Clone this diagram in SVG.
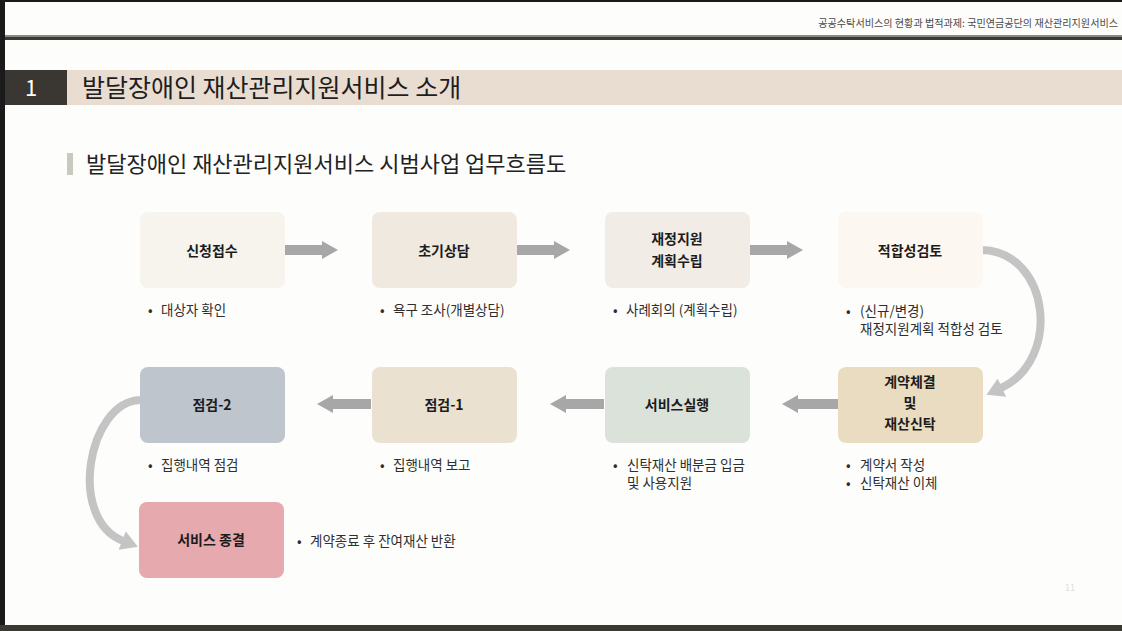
<svg xmlns="http://www.w3.org/2000/svg" width="1122" height="631" viewBox="0 0 1122 631">
<defs>
<style>
.t{font-family:"Noto Sans CJK KR","Noto Sans",sans-serif;}
.lbl{font-size:14px;font-weight:bold;fill:#1c1c1c;text-anchor:middle;}
.bul{font-size:13.5px;fill:#2e2e2e;}
.box{stroke:none;}
.ar{fill:none;stroke:#a7a7a7;stroke-width:10;}
.cv{fill:none;stroke:#c4c4c4;stroke-width:8;}
</style>
<marker id="hd" markerUnits="userSpaceOnUse" markerWidth="16" markerHeight="18" refX="1" refY="9" orient="auto">
<path d="M0,0 L16,9 L0,18 z" fill="#a7a7a7"/>
</marker>
<marker id="hc" markerUnits="userSpaceOnUse" markerWidth="17" markerHeight="20" refX="1" refY="10" orient="auto">
<path d="M0,0 L17,10 L0,20 z" fill="#c4c4c4"/>
</marker>
</defs>
<rect x="0" y="0" width="1122" height="631" fill="#fdfdfc"/>
<rect x="0" y="0" width="5" height="631" fill="#1a1a1a"/>
<rect x="0" y="0" width="1122" height="2" fill="#1a1a1a"/>
<text class="t" x="1118" y="27" font-size="10.1" fill="#4a4a4a" text-anchor="end">공공수탁서비스의 현황과 법적과제: 국민연금공단의 재산관리지원서비스</text>
<rect x="5" y="35" width="1117" height="2" fill="#8a8a84"/>
<rect x="5" y="37" width="1117" height="3" fill="#3a3a34"/>
<rect x="5" y="70" width="62" height="35" fill="#3a3631"/>
<rect x="67" y="70" width="1055" height="35" fill="#e9ddd2"/>
<text class="t" x="31" y="96" font-size="22" fill="#ffffff" text-anchor="middle">1</text>
<text class="t" x="82" y="97" font-size="25" fill="#1e1e1e">발달장애인 재산관리지원서비스 소개</text>
<rect x="67" y="153" width="6" height="22" fill="#c9c9c0"/>
<text class="t" x="86" y="172" font-size="22" fill="#222">발달장애인 재산관리지원서비스 시범사업 업무흐름도</text>

<g id="connectors">
<path class="ar" d="M284,250 H323" marker-end="url(#hd)"/>
<path class="ar" d="M516,250 H555" marker-end="url(#hd)"/>
<path class="ar" d="M749,250 H788" marker-end="url(#hd)"/>
<path class="ar" d="M371,404 H332" marker-end="url(#hd)"/>
<path class="ar" d="M604,404 H565" marker-end="url(#hd)"/>
<path class="ar" d="M838,404 H797" marker-end="url(#hd)"/>
<path class="cv" d="M982,250 C1050,252 1062,360 1001,388" marker-end="url(#hc)"/>
<path class="cv" d="M140,400 C88,402 67,519 123,541" marker-end="url(#hc)"/>
</g>

<g id="n1"><rect class="box" x="140" y="212" width="145" height="76" rx="8" fill="#f6f4ec"/>
<text class="t lbl" x="212" y="256">신청접수</text>
<text class="t bul" x="148" y="315">•</text><text class="t bul" x="161" y="315">대상자 확인</text></g>

<g id="n2"><rect class="box" x="372" y="212" width="145" height="76" rx="8" fill="#efe9df"/>
<text class="t lbl" x="444" y="256">초기상담</text>
<text class="t bul" x="380" y="315">•</text><text class="t bul" x="393" y="315">욕구 조사(개별상담)</text></g>

<g id="n3"><rect class="box" x="605" y="212" width="145" height="76" rx="8" fill="#f2ece7"/>
<text class="t lbl" x="677" y="244">재정지원</text>
<text class="t lbl" x="677" y="266">계획수립</text>
<text class="t bul" x="613" y="315">•</text><text class="t bul" x="626" y="315">사례회의 (계획수립)</text></g>

<g id="n4"><rect class="box" x="838" y="212" width="145" height="76" rx="8" fill="#fdf7f1"/>
<text class="t lbl" x="910" y="256">적합성검토</text>
<text class="t bul" x="846" y="316">•</text><text class="t bul" x="860" y="316">(신규/변경)</text>
<text class="t bul" x="860" y="334">재정지원계획 적합성 검토</text></g>

<g id="n5"><rect class="box" x="838" y="367" width="145" height="76" rx="8" fill="#eadcc1"/>
<text class="t lbl" x="910" y="387">계약체결</text>
<text class="t lbl" x="910" y="408">및</text>
<text class="t lbl" x="910" y="429">재산신탁</text>
<text class="t bul" x="846" y="470">•</text><text class="t bul" x="860" y="470">계약서 작성</text>
<text class="t bul" x="846" y="488">•</text><text class="t bul" x="860" y="488">신탁재산 이체</text></g>

<g id="n6"><rect class="box" x="605" y="367" width="145" height="76" rx="8" fill="#dbe2da"/>
<text class="t lbl" x="677" y="410">서비스실행</text>
<text class="t bul" x="613" y="470">•</text><text class="t bul" x="627" y="470">신탁재산 배분금 입금</text>
<text class="t bul" x="627" y="488">및 사용지원</text></g>

<g id="n7"><rect class="box" x="372" y="367" width="145" height="76" rx="8" fill="#ebe1d0"/>
<text class="t lbl" x="444" y="410">점검-1</text>
<text class="t bul" x="380" y="470">•</text><text class="t bul" x="393" y="470">집행내역 보고</text></g>

<g id="n8"><rect class="box" x="140" y="367" width="145" height="76" rx="8" fill="#bec5cd"/>
<text class="t lbl" x="212" y="410">점검-2</text>
<text class="t bul" x="148" y="470">•</text><text class="t bul" x="161" y="470">집행내역 점검</text></g>

<g id="n9"><rect class="box" x="139" y="502" width="145" height="76" rx="8" fill="#e6a9ad"/>
<text class="t lbl" x="211" y="545">서비스 종결</text>
<text class="t bul" x="297" y="546">•</text><text class="t bul" x="310" y="546">계약종료 후 잔여재산 반환</text></g>

<text class="t" x="1070" y="591" font-size="9" fill="#dedede" text-anchor="middle">11</text>
<rect x="0" y="625" width="1122" height="6" fill="#3a3a32"/>
</svg>
